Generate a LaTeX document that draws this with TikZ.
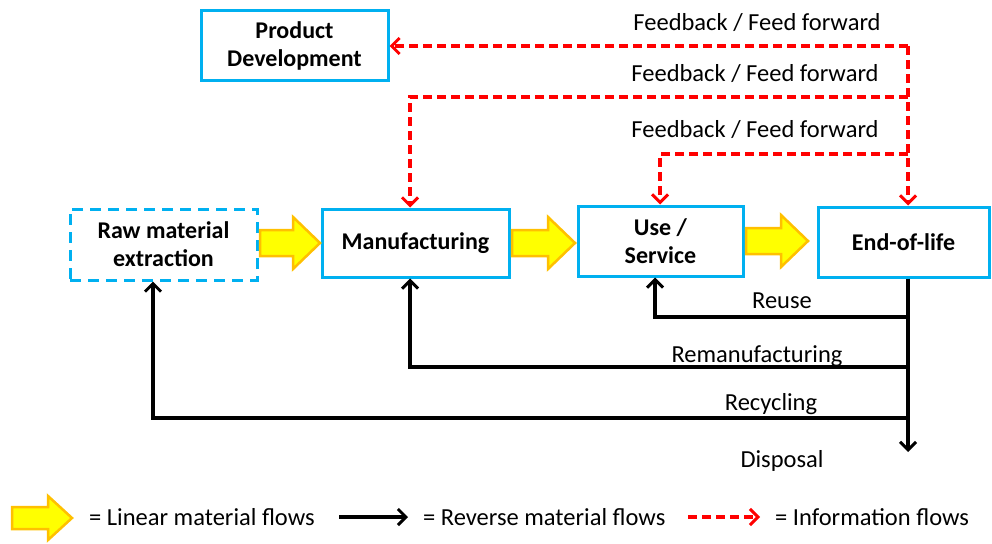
\documentclass[tikz,border=0pt]{standalone}
\usepackage{fontspec}
\setmainfont{Carlito}
\usetikzlibrary{arrows.meta}
\definecolor{boxblue}{HTML}{00B0F0}
\definecolor{yfill}{HTML}{FFFF00}
\definecolor{yedge}{HTML}{FFC000}
\definecolor{infored}{HTML}{FF0000}
\tikzset{
  box/.style={draw=boxblue, line width=3pt, fill=white, align=center, font=\fontsize{24}{28}\selectfont\bfseries, inner sep=0pt},
  dbox/.style={box, dash pattern=on 11pt off 7pt},
  rev/.style={draw=black, line width=3.3pt, -{Straight Barb[length=8pt,width=16pt,line width=3pt]}},
  info/.style={draw=infored, line width=3.3pt, dash pattern=on 9pt off 5pt, -{Straight Barb[length=8pt,width=16pt,line width=3pt]}},
  lin/.style={fill=yfill, draw=yedge, line width=2.5pt, line join=miter},
  lbl/.style={font=\fontsize{24.5}{28}\selectfont, inner sep=0pt}
}
\newcommand{\yarrow}[3]{% tail x, tip x, center y
  \path[lin] (#1,#3+13) -- (#2-27,#3+13) -- (#2-27,#3+26) -- (#2,#3) -- (#2-27,#3-26) -- (#2-27,#3-13) -- (#1,#3-13) -- cycle;}
\begin{document}
\begin{tikzpicture}[x=1pt,y=-1pt]
\useasboundingbox (0,0) rectangle (992,543);
% boxes
\node[box, minimum width=187pt, minimum height=69pt] (pd) at (294.5,45.5) {Product\\Development};
\node[dbox, minimum width=187pt, minimum height=71pt] (raw) at (163.5,244.5) {Raw material\\extraction};
\node[box, minimum width=187pt, minimum height=68pt] (man) at (415.5,243) {Manufacturing};
\node[box, minimum width=165pt, minimum height=70pt] (use) at (660.5,241) {Use /\\Service};
\node[box, minimum width=171pt, minimum height=70pt] (eol) at (903.5,242) {End-of-life};
% linear flows
\yarrow{260}{320}{243}
\yarrow{512}{575}{243}
\yarrow{746}{808}{241}
% information flows
\coordinate (f1) at (908,46);
\coordinate (f2) at (908,97);
\coordinate (f3) at (908,154);
\draw[info] (f1) -- (pd.east |- f1);
\draw[info] (f1) -- (f1 |- eol.north);
\draw[info] (f2) -- (410,97) -- (410,0 |- man.north);
\draw[info] (f3) -- (660,154) -- (660,0 |- use.north);
\node[lbl] (t1) at (757,23) {Feedback / Feed forward};
\node[lbl] (t2) at (755,74) {Feedback / Feed forward};
\node[lbl] (t3) at (755,130) {Feedback / Feed forward};
% reverse flows
\coordinate (r1) at (908,317);
\coordinate (r2) at (908,367);
\coordinate (r3) at (908,418);
\coordinate (dis) at (908,452);
\draw[rev] (908,0 |- eol.south) -- (dis);
\draw[rev] (r1) -- (655,317) -- (655,0 |- use.south);
\draw[rev] (r2) -- (410,367) -- (410,0 |- man.south);
\draw[rev] (r3) -- (153,418) -- (153,0 |- raw.south);
\node[lbl] (reuse) at (782,301) {Reuse};
\node[lbl] (reman) at (757,356) {Remanufacturing};
\node[lbl] (recyc) at (771,404) {Recycling};
\node[lbl] (disp) at (782,461) {Disposal};
% legend
\path[lin] (12,507) -- (48,507) -- (48,496) -- (72,518) -- (48,540) -- (48,529) -- (12,529) -- cycle;
\node[lbl, anchor=west] (l1) at (89,517) {= Linear material flows};
\coordinate (la) at (339,517);
\coordinate (lb) at (408,517);
\draw[rev] (la) -- (lb);
\node[lbl, anchor=west] (l2) at (423,517) {= Reverse material flows};
\coordinate (lc) at (688,517);
\coordinate (ld) at (760,517);
\draw[info] (lc) -- (ld);
\node[lbl, anchor=west] (l3) at (775,517) {= Information flows};
\end{tikzpicture}
\end{document}
